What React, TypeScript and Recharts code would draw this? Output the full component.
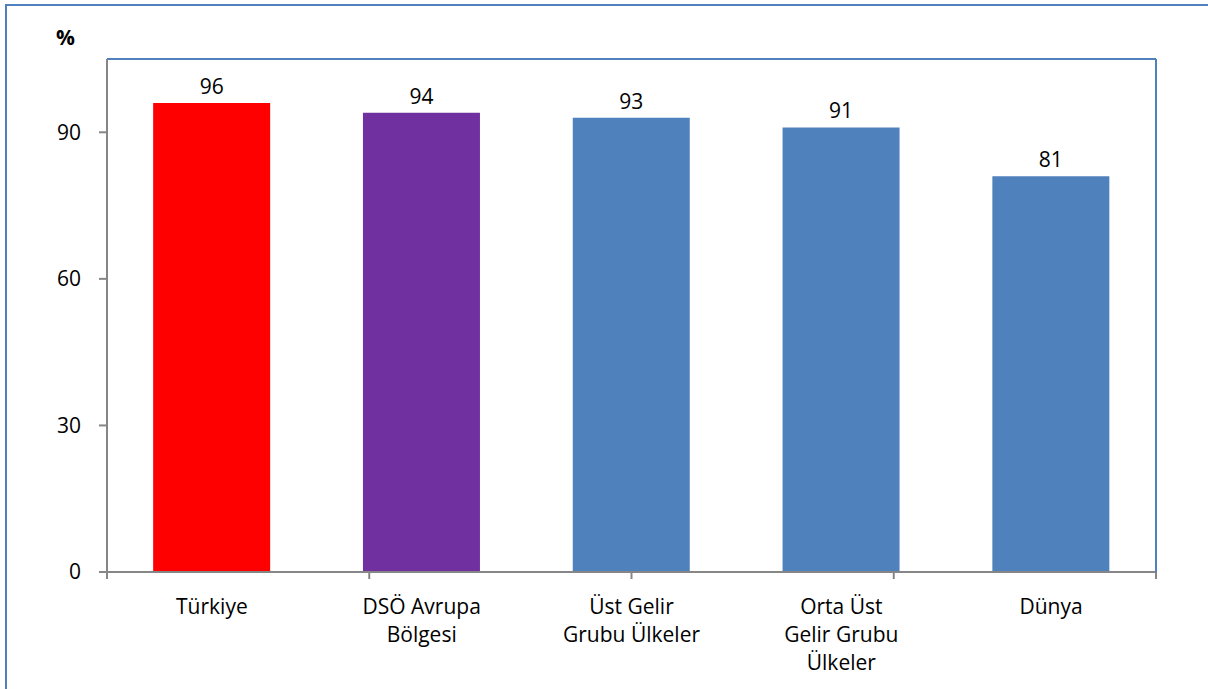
import { Bar, BarChart, Cell, LabelList, XAxis, YAxis } from "recharts";

const categories = [
  "Türkiye",
  "DSÖ Avrupa\nBölgesi",
  "Üst Gelir\nGrubu Ülkeler",
  "Orta Üst\nGelir Grubu\nÜlkeler",
  "Dünya",
];
const values = [96, 94, 93, 91, 81];
const barColors = ["#FF0000", "#7030A0", "#4F81BD", "#4F81BD", "#4F81BD"];
const yTicks = [0, 30, 60, 90];
const edgeTicks = [0, 1, 2, 3, 4, 5];

const data = categories.map((name, i) => ({ name, value: values[i] }));

const FONT = "'Open Sans', 'Noto Sans', sans-serif";
const FONT_SIZE = 21;
const AXIS_GREY = "#868686";
const FRAME_BLUE = "#4F81BD";

// multi-line category label, lines split on \n
function CategoryTick({ x, y, payload }: { x?: number; y?: number; payload?: { value: string } }) {
  const lines = String(payload?.value ?? "").split("\n");
  return (
    <text x={x} y={y} textAnchor="middle" fill="#000" fontSize={FONT_SIZE} fontFamily={FONT}>
      {lines.map((line, i) => (
        <tspan key={i} x={x} dy={i === 0 ? 33 : 28}>
          {line}
        </tspan>
      ))}
    </text>
  );
}

export default function App() {
  return (
    <div
      style={{
        position: "absolute",
        left: 0,
        top: 0,
        width: 1208,
        height: 689,
        overflow: "hidden",
        background: "#fff",
      }}
    >
      <div
        style={{
          position: "absolute",
          left: 5,
          top: 4,
          width: 1300,
          height: 800,
          border: `2px solid ${FRAME_BLUE}`,
        }}
      />
      <div
        style={{
          position: "absolute",
          left: 56,
          top: 23,
          fontFamily: FONT,
          fontWeight: 700,
          fontSize: FONT_SIZE,
        }}
      >
        %
      </div>
      <div style={{ position: "absolute", left: 0, top: 0 }}>
        <BarChart
          width={1208}
          height={689}
          data={data}
          barCategoryGap="22%"
          margin={{ top: 58, right: 51, bottom: 0, left: 47 }}
        >
          <XAxis
            xAxisId="b"
            dataKey="name"
            height={116}
            interval={0}
            axisLine={false}
            tickLine={false}
            tick={<CategoryTick />}
          />
          <XAxis
            xAxisId="a"
            type="number"
            domain={[0, 5]}
            ticks={edgeTicks}
            allowDataOverflow
            height={1}
            tick={{ fontSize: 0 }}
            tickFormatter={() => ""}
            tickSize={7}
            axisLine={{ stroke: AXIS_GREY, strokeWidth: 2 }}
            tickLine={{ stroke: AXIS_GREY, strokeWidth: 2 }}
          />
          <XAxis
            xAxisId="top"
            orientation="top"
            dataKey="name"
            height={1}
            tick={false}
            tickLine={false}
            axisLine={{ stroke: FRAME_BLUE, strokeWidth: 2 }}
          />
          <YAxis
            domain={[0, 105]}
            ticks={yTicks}
            width={60}
            tickSize={8}
            tickMargin={18}
            axisLine={{ stroke: AXIS_GREY, strokeWidth: 2 }}
            tickLine={{ stroke: AXIS_GREY, strokeWidth: 2 }}
            tick={{ fill: "#000", fontSize: FONT_SIZE, fontFamily: FONT }}
          />
          <YAxis
            yAxisId="right"
            orientation="right"
            width={1}
            domain={[0, 105]}
            tick={false}
            tickLine={false}
            axisLine={{ stroke: FRAME_BLUE, strokeWidth: 2 }}
          />
          <Bar dataKey="value" xAxisId="b" isAnimationActive={false}>
            {data.map((d, i) => (
              <Cell key={d.name} fill={barColors[i]} />
            ))}
            <LabelList
              dataKey="value"
              position="top"
              offset={9}
              fill="#000"
              fontSize={FONT_SIZE}
              fontFamily={FONT}
            />
          </Bar>
        </BarChart>
      </div>
    </div>
  );
}
